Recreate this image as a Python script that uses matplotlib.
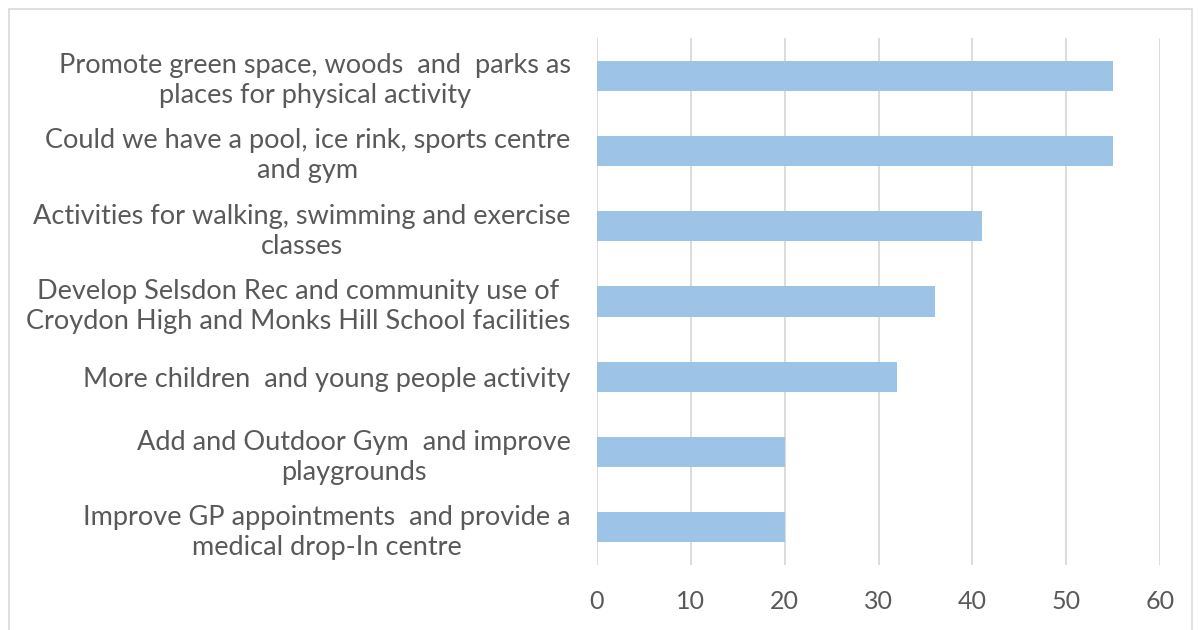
import matplotlib.pyplot as plt
import matplotlib.patches as mpatches

plt.rcParams['font.family'] = ['Lato', 'DejaVu Sans']

categories = [
    "Promote green space, woods  and  parks as\nplaces for physical activity",
    "Could we have a pool, ice rink, sports centre\nand gym",
    "Activities for walking, swimming and exercise\nclasses",
    "Develop Selsdon Rec and community use of\nCroydon High and Monks Hill School facilities",
    "More children  and young people activity",
    "Add and Outdoor Gym  and improve\nplaygrounds",
    "Improve GP appointments  and provide a\nmedical drop-In centre",
]
values = [55, 55, 41, 36, 32, 20, 20]
xticks = [0, 10, 20, 30, 40, 50, 60]

text_color = '#595959'
grid_color = '#D9D9D9'
bar_color = '#9DC3E6'

fig = plt.figure(figsize=(11.98, 6.30), dpi=100, facecolor='white')
ax = fig.add_axes([597 / 1198, 1 - 565 / 630, (1160 - 597) / 1198, (565 - 38) / 630])

y = list(range(len(categories)))[::-1]
ax.barh(y, values, height=0.4, color=bar_color, zorder=3)

ax.set_xlim(0, 60)
ax.set_ylim(-0.5, len(categories) - 0.5)
ax.set_xticks(xticks)
ax.set_xticklabels([str(t) for t in xticks], fontsize=18, color=text_color)
ax.set_yticks(y)
ax.set_yticklabels(categories, fontsize=19.5, color=text_color, multialignment='center',
                   linespacing=1.25)
ax.tick_params(axis='x', length=0, pad=18)
ax.tick_params(axis='y', length=0, pad=19)
ax.grid(axis='x', color=grid_color, linewidth=1.3, zorder=0)
for s in ax.spines.values():
    s.set_visible(False)

# outer chart border
fig.patches.append(mpatches.Rectangle((9 / 1198, -0.05), (1192 - 9) / 1198, 1.05 - 9 / 630,
                                      transform=fig.transFigure, fill=False,
                                      edgecolor='#D9D9D9', linewidth=1.2))

fig.savefig('out.png', dpi=100, facecolor='white')
